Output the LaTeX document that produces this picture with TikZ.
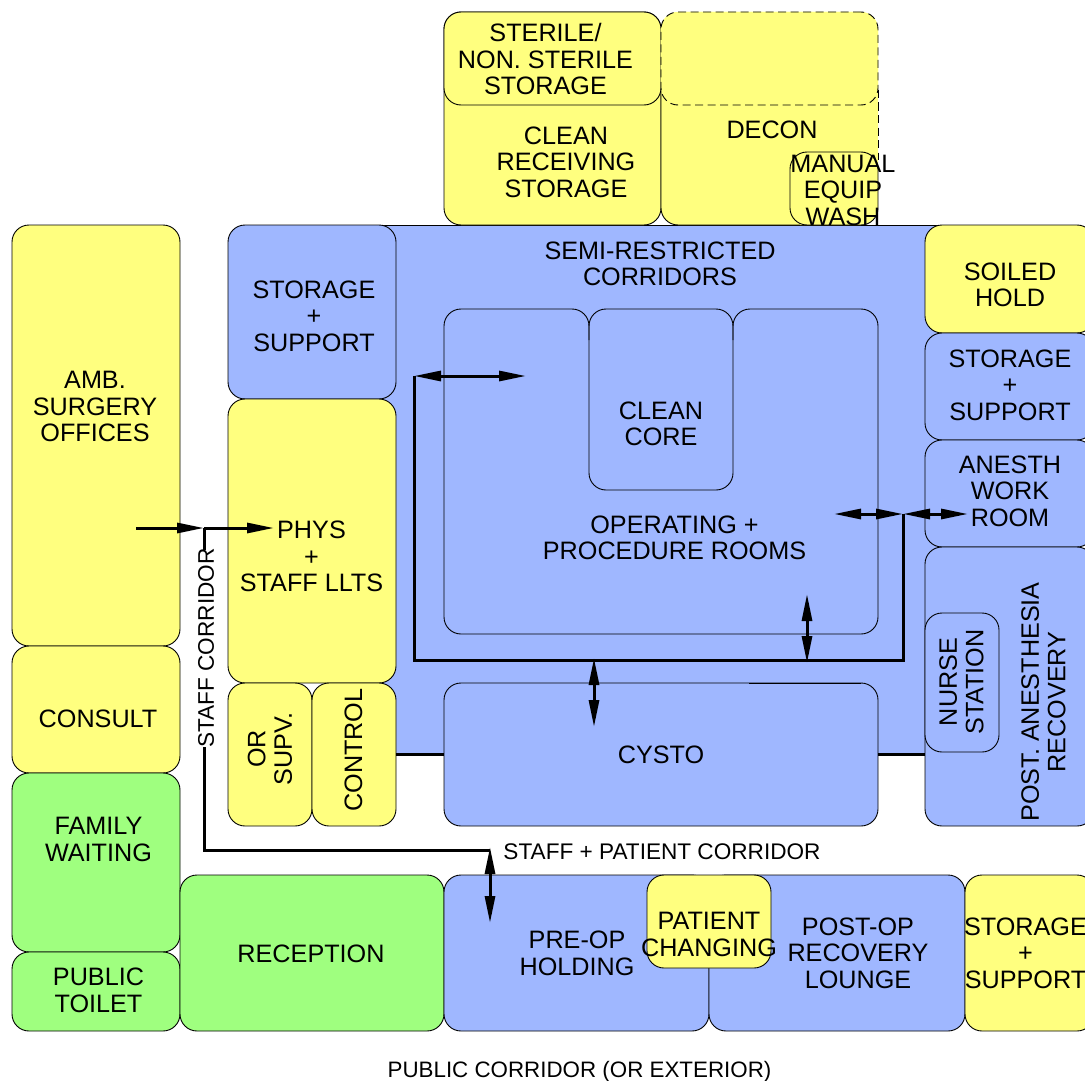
\documentclass[tikz,border=0pt]{standalone}
\usepackage{fontspec}
\usepackage{xcolor}
\setmainfont{Liberation Sans}
\usetikzlibrary{arrows.meta,positioning}
\definecolor{yel}{RGB}{255,255,127}
\definecolor{blu}{RGB}{159,183,255}
\definecolor{grn}{RGB}{159,255,127}

\begin{document}
\begin{tikzpicture}[
  x=1pt, y=-1pt,
  room/.style={draw, line width=0.9pt, rounded corners=17pt, inner sep=0pt},
  wallthin/.style={line width=0.9pt},
  wall/.style={line width=3pt},
  longdash/.style={dash pattern=on 8pt off 4.5pt},
  lbl/.style={align=center, inner sep=0pt, font=\fontsize{25.2}{26.5}\selectfont},
  lblsmall/.style={align=center, inner sep=0pt, font=\fontsize{22.6}{26}\selectfont},
  arr/.style={line width=3pt, {Triangle[length=27pt,width=10pt]}-{Triangle[length=27pt,width=10pt]}},
  arrone/.style={line width=3pt, -{Triangle[length=27pt,width=10pt]}}
]
\useasboundingbox (0,0) rectangle (1085,1081);
\node[room, sharp corners, fill=blu, minimum width=563, minimum height=529] (corridor) at (660.5,489.5) {};
\foreach \name/\x/\y/\rw/\rh/\colr in {
  clean/444/12/217/213/yel, sterile/444/12/217/93/yel,
  storel/228/225/168/174/blu, phys/228/399/168/284/yel,
  orsupv/228/683/84/143/yel, control/312/683/84/143/yel,
  ambsurg/12/225/168/421/yel, consult/12/646/168/127/yel,
  family/12/773/168/179/grn, toilet/12/952/168/79/grn,
  reception/180/875/264/156/grn, preop/444/875/265/156/blu,
  postop/709/875/256/156/blu, storeb/965/875/129/156/yel,
  changing/647/875/124/93/yel, cysto/444/683/434/143/blu,
  soiled/925/225/169/108/yel, storer/925/333/169/107/blu,
  anesth/925/440/169/107/blu, pacu/925/547/169/279/blu,
  nurse/925/613/74/139/blu, core/589/309/144/181/blu}{
  \node[room, fill=\colr, minimum width=\rw, minimum height=\rh] (\name) at ({\x+\rw/2},{\y+\rh/2}) {};
}
\node[room, draw=none, fill=yel, minimum width=217, minimum height=213] (decon) at (769.5,118.5) {};
\node[room, longdash, fill=yel, minimum width=217, minimum height=93] (decontop) at (769.5,58.5) {};
\draw[wallthin, rounded corners=17pt] (800,225) -| (661,90);
\draw[wallthin, longdash] (878,90) -- (878,160);
\node[room, minimum width=88, minimum height=73] (manual) at (834,188.5) {};
\draw[wallthin, rounded corners=17pt] (589,340) |- (444,309) |- (878,634) |- (733,309) -- (733,340);
\draw[wallthin] (749,683) -- (861,683);
\draw[wall] (control.east) -- (cysto.west);
\draw[wall] (cysto.east) -- (pacu.west |- cysto);
\foreach \name/\x/\y/\rot/\txt in {
  sterilet/545.5/59/0/{STERILE/\\NON. STERILE\\STORAGE},
  cleant/566/162/0/{CLEAN\\RECEIVING\\STORAGE},
  decont/772/130/0/{DECON},
  manualt/843/190/0/{MANUAL\\EQUIP\\WASH},
  semit/660/264/0/{SEMI-RESTRICTED\\CORRIDORS},
  storelt/314/316/0/{STORAGE\\+\\SUPPORT},
  coret/661/424/0/{CLEAN\\CORE},
  ort/674.5/538/0/{OPERATING +\\PROCEDURE ROOMS},
  ambt/95/406.5/0/{AMB.\\SURGERY\\OFFICES},
  physt/311.5/556.5/0/{PHYS\\+\\STAFF LLTS},
  soiledt/1010/285/0/{SOILED\\HOLD},
  storert/1010/385/0/{STORAGE\\+\\SUPPORT},
  anestht/1010/491/0/{ANESTH\\WORK\\ROOM},
  consultt/98/719/0/{CONSULT},
  cystot/661/755/0/{CYSTO},
  nurset/961.5/682/90/{NURSE\\STATION},
  pacut/1043.5/702/90/{POST. ANESTHESIA\\RECOVERY},
  orsupvt/270/749/90/{OR\\SUPV.},
  controlt/353.5/750/90/{CONTROL},
  familyt/98.5/839.5/0/{FAMILY\\WAITING},
  toilett/98.5/990.5/0/{PUBLIC\\TOILET},
  receptiont/311/954/0/{RECEPTION},
  preopt/577/953.5/0/{PRE-OP\\HOLDING},
  changingt/709/934.5/0/{PATIENT\\CHANGING},
  postopt/858/953/0/{POST-OP\\RECOVERY\\LOUNGE},
  storebt/1025.5/953/0/{STORAGE\\+\\SUPPORT}}{
  \node[lbl, rotate=\rot] (\name) at (\x,\y) {\txt};
}
\node[lblsmall] (patcorr) at (662,852) {STAFF + PATIENT CORRIDOR};
\node[lblsmall, font=\fontsize{22.35}{26}\selectfont] (pubcorr) at (579.5,1072) {PUBLIC CORRIDOR (OR EXTERIOR)};
\node[lblsmall, rotate=90] (corridort) at (206,648) {STAFF CORRIDOR};
\coordinate (lefttip) at (414,376);
\coordinate (leftend) at (526,376);
\coordinate (botright) at (903,660);
\coordinate (righthub) at (903,514);
\coordinate (righttip) at (834,514);
\coordinate (roomtip) at (968,514);
\coordinate (ortip) at (807,594);
\coordinate (orfoot) at (807,663);
\coordinate (cystotop) at (594,658);
\coordinate (cystotip) at (594,727);
\coordinate (holdtop) at (490,847);
\coordinate (holdtip) at (490,923);
\coordinate (staffstart) at (136,528);
\coordinate (staffhub) at (204,528);
\coordinate (stafftip) at (274,528);
\coordinate (staffup) at (204,550);
\coordinate (staffdown) at (204,747);
\coordinate (staffend) at (490,850);
\draw[wall] (lefttip) |- (botright) -- (righthub);
\draw[arr] (lefttip) -- (leftend);
\draw[arr] (righttip) -- (righthub);
\draw[arr] (righthub) -- (roomtip);
\draw[arr] (ortip) -- (orfoot);
\draw[arr] (cystotop) -- (cystotip);
\draw[arr] (holdtop) -- (holdtip);
\draw[arrone] (staffstart) -- (staffhub);
\draw[arrone] (staffhub) -- (stafftip);
\draw[wall] (staffhub) -- (staffup);
\draw[wall] (staffdown) |- (staffend);
\end{tikzpicture}
\end{document}
